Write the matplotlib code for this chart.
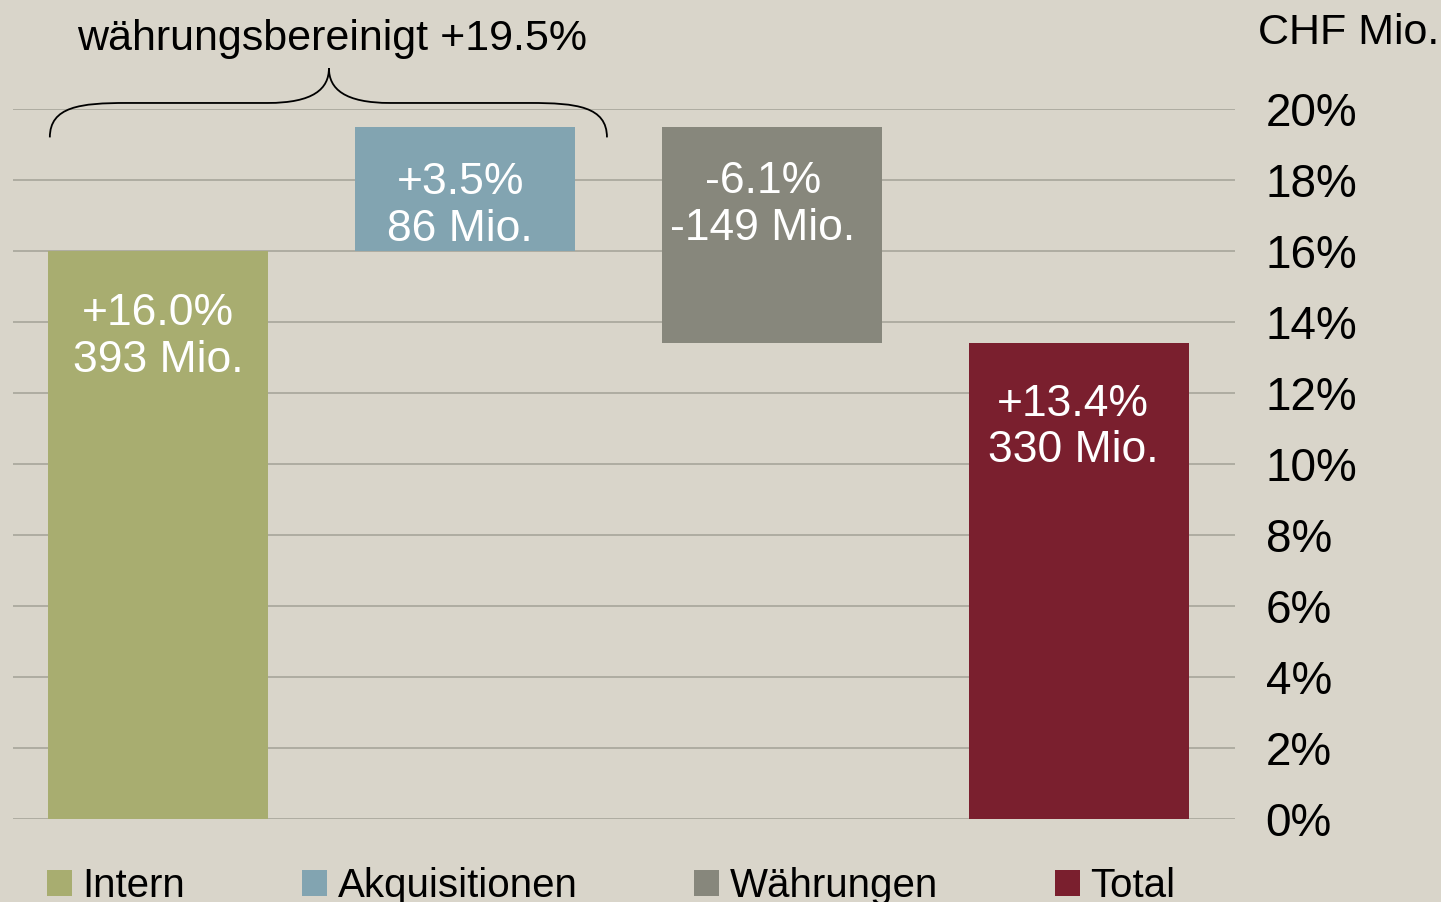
import matplotlib.pyplot as plt
from matplotlib.patches import PathPatch, Patch
from matplotlib.path import Path as MPath

categories = ["Intern", "Akquisitionen", "Währungen", "Total"]
bar_bottoms = [0.0, 16.0, 13.4, 0.0]
bar_tops = [16.0, 19.5, 19.5, 13.4]
pct_labels = ["+16.0%", "+3.5%", "-6.1%", "+13.4%"]
mio_labels = ["393 Mio.", "86 Mio.", "-149 Mio.", "330 Mio."]
label_y = [13.57, 17.27, 17.30, 11.03]
label_dx = [0.0, -0.015, -0.03, -0.02]
colors = ["#A8AD70", "#82A4B1", "#87877C", "#7A1F2E"]
yticks = [0, 2, 4, 6, 8, 10, 12, 14, 16, 18, 20]
bracket_text = "währungsbereinigt +19.5%"

BG = "#D9D5CA"
plt.rcParams["font.family"] = ["Liberation Sans", "DejaVu Sans"]


def main() -> None:
    fig = plt.figure(figsize=(14.41, 9.02), dpi=100, facecolor=BG)
    ax = fig.add_axes([13 / 1441, 1 - 819 / 902, 1222 / 1441, 710 / 902])
    ax.set_facecolor(BG)

    x = list(range(len(categories)))
    heights = [t - b for t, b in zip(bar_tops, bar_bottoms)]
    ax.bar(x, heights, bottom=bar_bottoms, width=0.717, color=colors, zorder=3)

    ax.set_xlim(-0.472, 3.508)
    ax.set_ylim(0, 20)
    ax.set_yticks(yticks)
    ax.set_yticklabels([f"{v}%" for v in yticks])
    ax.yaxis.tick_right()
    ax.tick_params(axis="y", length=0, labelsize=33, pad=22)
    for lab in ax.get_yticklabels():
        lab.set_horizontalalignment("left")
    ax.set_xticks([])
    ax.grid(axis="y", color="#A3A196", linewidth=1.1, zorder=0)
    for s in ax.spines.values():
        s.set_visible(False)

    for xi, p, m, ly, dx in zip(x, pct_labels, mio_labels, label_y, label_dx):
        ax.text(xi + dx, ly, f"{p}\n{m}", ha="center", va="center", color="white",
                fontsize=32, linespacing=1.18, multialignment="center", zorder=4)

    # curly brace over Intern + Akquisitionen
    xl, xr, xm = -0.352, 1.4625, 0.557
    yb, yh, yt = 19.2, 20.17, 21.15
    verts = [
        (xl, yb), (xl, yh - 0.1), (xl + 0.1, yh), (xl + 0.25, yh),
        (xm - 0.2, yh), (xm - 0.05, yh), (xm, yh + 0.4), (xm, yt),
        (xm, yh + 0.4), (xm + 0.05, yh), (xm + 0.2, yh),
        (xr - 0.25, yh),
        (xr - 0.1, yh), (xr, yh - 0.1), (xr, yb),
    ]
    codes = [MPath.MOVETO, MPath.CURVE4, MPath.CURVE4, MPath.CURVE4,
             MPath.LINETO, MPath.CURVE4, MPath.CURVE4, MPath.CURVE4,
             MPath.CURVE4, MPath.CURVE4, MPath.CURVE4,
             MPath.LINETO,
             MPath.CURVE4, MPath.CURVE4, MPath.CURVE4]
    ax.add_patch(PathPatch(MPath(verts, codes), fill=False, edgecolor="black",
                           linewidth=1.3, clip_on=False, zorder=5))
    ax.text(xm + 0.01, 21.98, bracket_text, ha="center", va="center", fontsize=31,
            clip_on=False)

    fig.text(1258 / 1441, 1 - 33 / 902, "CHF Mio.", ha="left", va="center", fontsize=31)

    handles = [Patch(facecolor=c, edgecolor="none") for c in colors]
    fig.legend(handles, categories, loc="center left", bbox_to_anchor=(47 / 1441, 1 - 886 / 902),
               ncol=4, frameon=False, prop={"size": 29},
               handlelength=0.62, handleheight=0.62, handletextpad=0.26,
               columnspacing=2.9, borderaxespad=0, borderpad=0)

    fig.savefig("out.png", dpi=100, facecolor=BG)
    plt.close(fig)


if __name__ == "__main__":
    main()
